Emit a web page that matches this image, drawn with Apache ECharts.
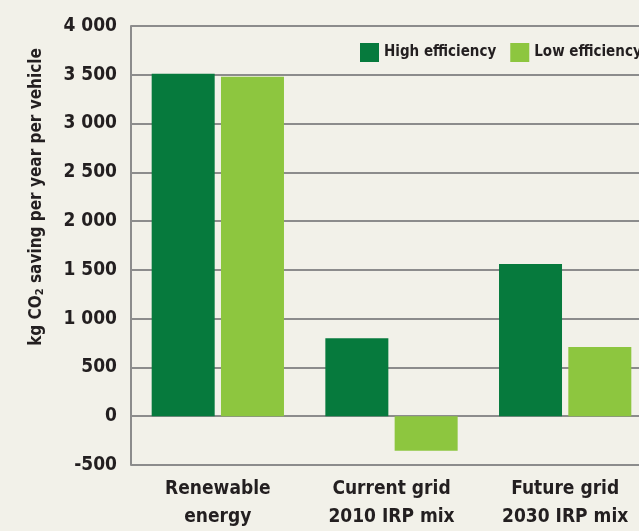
<!DOCTYPE html>
<html>
<head>
<meta charset="utf-8">
<script src="https://cdn.jsdelivr.net/npm/echarts@6/dist/echarts.min.js"></script>
<style>
    html, body { margin: 0; padding: 0; background: #f2f1e9; }
    #chart { width: 639px; height: 531px; }
</style>
</head>
<body>
<div id="chart"></div>
<script>
// data
const categories = ['Renewable\nenergy', 'Current grid\n2010 IRP mix', 'Future grid\n2030 IRP mix'];
const highEfficiency = [3510, 800, 1560];
const lowEfficiency = [3480, -355, 710];
const seriesNames = ['High efficiency', 'Low efficiency'];

const font = '"Liberation Sans Narrow", "DejaVu Sans Condensed", sans-serif';
const ink = '#231f20';

let chart = echarts.init(document.getElementById('chart'));
chart.setOption({
    backgroundColor: '#f2f1e9',
    color: ['#067a3d', '#8dc63f'],
    textStyle: { fontFamily: font },
    legend: {
        data: seriesNames,
        left: 355,
        top: 38,
        width: 300,
        itemWidth: 19,
        itemHeight: 19,
        itemGap: 14,
        icon: 'rect',
        textStyle: { fontFamily: font, fontWeight: 'bold', fontSize: 15, color: ink }
    },
    grid: { left: 131, top: 26, bottom: 66, width: 521, outerBoundsMode: 'none' },
    xAxis: {
        type: 'category',
        data: categories,
        axisLine: { show: false },
        axisTick: { show: false },
        axisLabel: {
            fontFamily: font, fontWeight: 'bold', fontSize: 19, color: ink,
            lineHeight: 28, margin: 10, interval: 0
        }
    },
    yAxis: {
        type: 'value',
        min: -500,
        max: 4000,
        interval: 500,
        axisLine: { show: true, lineStyle: { color: '#8c8c8c', width: 2 } },
        axisTick: { show: false },
        splitLine: { lineStyle: { color: '#8c8c8c', width: 2 } },
        axisLabel: {
            fontFamily: font, fontWeight: 'bold', fontSize: 19, color: ink, margin: 14,
            formatter: v => String(v).replace(/\B(?=(\d{3})+$)/, ' ')
        }
    },
    graphic: [{
        type: 'text',
        x: 37,
        y: 197,
        rotation: Math.PI / 2,
        style: {
            text: 'kg CO{sub|2} saving per year per vehicle',
            font: 'bold 17px ' + font,
            fill: ink,
            align: 'center',
            verticalAlign: 'middle',
            rich: {
                sub: { fontFamily: font, fontWeight: 'bold', fontSize: 11, fill: ink, padding: [7, 0, 0, 0] }
            }
        }
    }],
    series: [
        { name: seriesNames[0], type: 'bar', data: highEfficiency, barWidth: 63, barGap: '10%' },
        { name: seriesNames[1], type: 'bar', data: lowEfficiency, barWidth: 63, barGap: '10%' }
    ]
});
</script>
</body>
</html>
